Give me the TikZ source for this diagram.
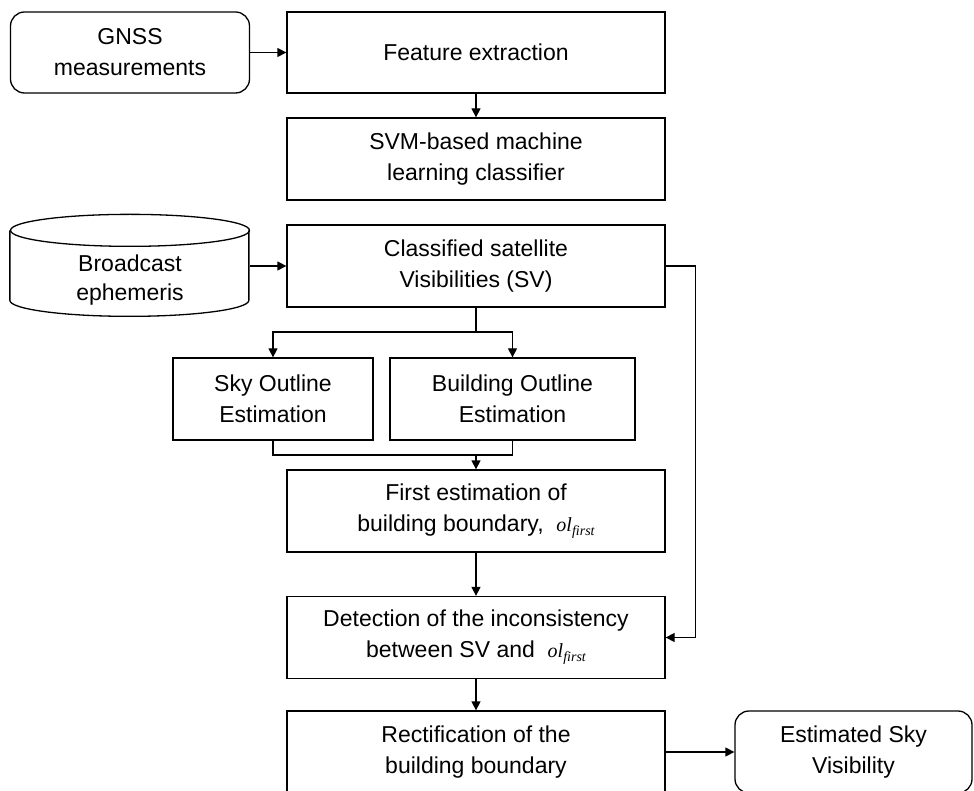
\documentclass[tikz,border=0pt]{standalone}
\usepackage{fontspec}
\setmainfont{Liberation Sans}
\newfontfamily\varfont{Liberation Serif}
\usetikzlibrary{arrows.meta}

\begin{document}
\begin{tikzpicture}[x=1pt,y=-1pt,line width=1.3pt,
  >={Triangle[length=9pt,width=9pt]}]
\tikzstyle{every node}+=[font=\fontsize{23}{31}\selectfont, align=center, inner sep=0pt]
\tikzstyle{block}=[draw, rectangle, minimum width=378, minimum height=82]
\tikzstyle{term}=[draw, rectangle, rounded corners=14pt, minimum height=82]
\newcommand{\olfirst}{{\varfont\itshape\fontsize{20}{22}\selectfont ol\raisebox{-4pt}{\fontsize{14}{15}\selectfont first}}}
\useasboundingbox (0,0) rectangle (974,791);
% inputs
\node [term, minimum width=239, minimum height=81] (gnss) at (130,52.5) {GNSS\\measurements};
\node [minimum width=239, minimum height=98, font=\fontsize{23}{29}\selectfont] (eph) at (130,280) {Broadcast\\ephemeris};
\draw (eph.north) ellipse [x radius=119.5, y radius=16];
\draw (eph.north west) -- ++(0,70) arc [start angle=180, end angle=0, x radius=119.5, y radius=16] -- ++(0,-70);
% main column
\node [block, minimum height=81] (feat) at (476,52.5) {Feature extraction};
\node [block] (svm) at (476,159) {SVM-based machine\\learning classifier};
\node [block] (svclass) at (476,266) {Classified satellite\\Visibilities (SV)};
\node [draw, minimum width=200, minimum height=82] (sky) at (273,399) {Sky Outline\\Estimation};
\node [draw, minimum width=245, minimum height=82] (bld) at (512.5,399) {Building Outline\\Estimation};
\node [block] (first) at (476,511) {First estimation of\\building boundary,\ \ \olfirst};
\node [block] (detect) at (476,637.5) {Detection of the inconsistency\\between SV and\ \ \olfirst};
\node [block] (rect) at (476,752) {Rectification of the\\building boundary};
\node [term, minimum width=237] (est) at (853.5,752) {Estimated Sky\\Visibility};
\coordinate (split) at (476,332);
\coordinate (merge) at (476,455);
% connectors
\draw [->] (gnss) -- (feat);
\draw [->] (feat) -- (svm);
\draw [->] (eph.east |- svclass) -- (svclass);
\draw (svclass) -- (split);
\draw [->] (split) -| (sky.north);
\draw [->] (split) -| (bld.north);
\draw (sky.south) |- (merge);
\draw (bld.south) |- (merge);
\draw [->] (merge) -- (first);
\draw [->] (svclass.east) -- ++(30,0) |- (detect.east);
\draw [->] (first) -- (detect);
\draw [->] (detect) -- (rect);
\draw [->] (rect) -- (est);
\end{tikzpicture}
\end{document}
